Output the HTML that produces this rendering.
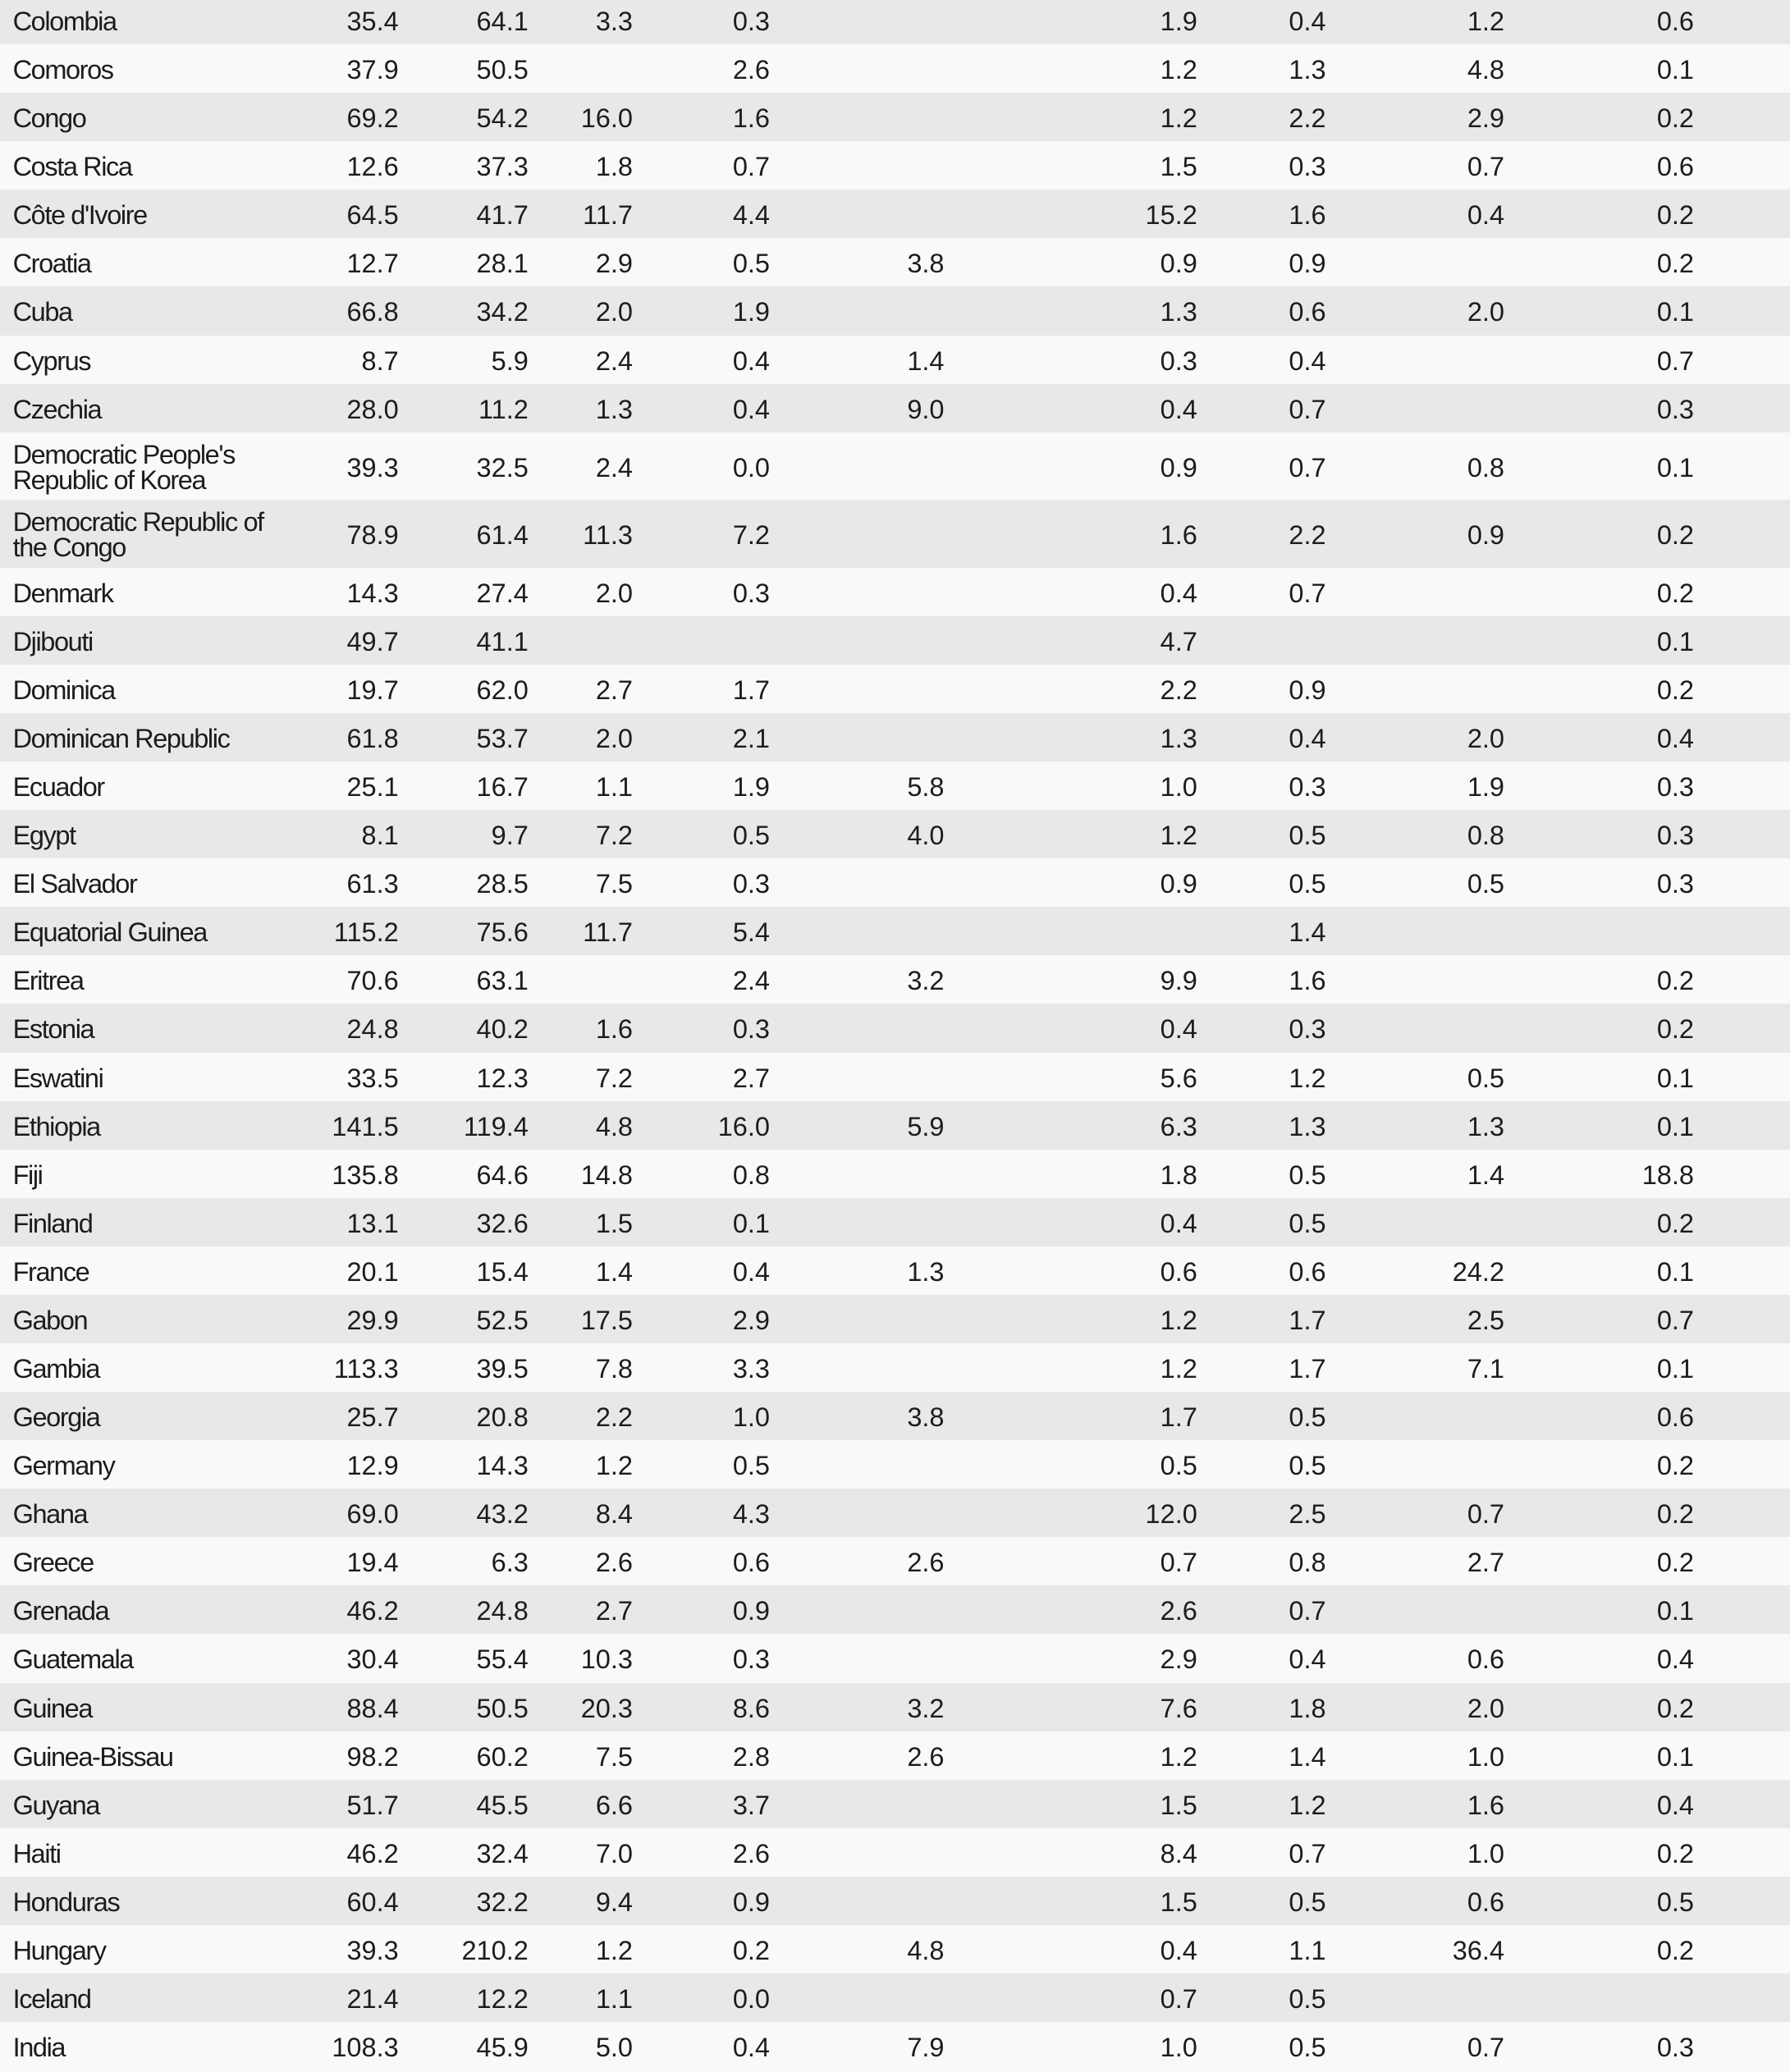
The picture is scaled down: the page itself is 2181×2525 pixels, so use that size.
<!DOCTYPE html>
<html>
<head>
<meta charset="utf-8">
<style>
html,body{margin:0;padding:0;}
body{width:2181px;height:2524px;position:relative;overflow:hidden;background:#f9f9f9;font-family:"Liberation Sans",Arial,sans-serif;font-size:32.5px;color:#1c1c1c;}
.r{position:absolute;left:0;width:2181px;height:59.08px;line-height:59.08px;}
.g{background:#e8e8e8;}
.w{background:#f9f9f9;}
.r span{position:absolute;top:2px;white-space:nowrap;}
.r span.n{left:15.6px;letter-spacing:-1.4px;}
.d{height:82.5px;line-height:82.5px;}
.d span.n{top:12.25px;line-height:31px;}
.c1{right:1695.3px}.c2{right:1537.2px}.c3{right:1410px}.c4{right:1243px}.c5{right:1030.5px}
.c6{right:722.2px}.c7{right:565.4px}.c8{right:348px}.c9{right:117px}
</style>
</head>
<body>
<div class="r g" style="top:-5px"><span class="n">Colombia</span><span class="c1">35.4</span><span class="c2">64.1</span><span class="c3">3.3</span><span class="c4">0.3</span><span class="c6">1.9</span><span class="c7">0.4</span><span class="c8">1.2</span><span class="c9">0.6</span></div>
<div class="r w" style="top:54.08px"><span class="n">Comoros</span><span class="c1">37.9</span><span class="c2">50.5</span><span class="c4">2.6</span><span class="c6">1.2</span><span class="c7">1.3</span><span class="c8">4.8</span><span class="c9">0.1</span></div>
<div class="r g" style="top:113.16px"><span class="n">Congo</span><span class="c1">69.2</span><span class="c2">54.2</span><span class="c3">16.0</span><span class="c4">1.6</span><span class="c6">1.2</span><span class="c7">2.2</span><span class="c8">2.9</span><span class="c9">0.2</span></div>
<div class="r w" style="top:172.24px"><span class="n">Costa Rica</span><span class="c1">12.6</span><span class="c2">37.3</span><span class="c3">1.8</span><span class="c4">0.7</span><span class="c6">1.5</span><span class="c7">0.3</span><span class="c8">0.7</span><span class="c9">0.6</span></div>
<div class="r g" style="top:231.32px"><span class="n">Côte d'Ivoire</span><span class="c1">64.5</span><span class="c2">41.7</span><span class="c3">11.7</span><span class="c4">4.4</span><span class="c6">15.2</span><span class="c7">1.6</span><span class="c8">0.4</span><span class="c9">0.2</span></div>
<div class="r w" style="top:290.40px"><span class="n">Croatia</span><span class="c1">12.7</span><span class="c2">28.1</span><span class="c3">2.9</span><span class="c4">0.5</span><span class="c5">3.8</span><span class="c6">0.9</span><span class="c7">0.9</span><span class="c9">0.2</span></div>
<div class="r g" style="top:349.48px"><span class="n">Cuba</span><span class="c1">66.8</span><span class="c2">34.2</span><span class="c3">2.0</span><span class="c4">1.9</span><span class="c6">1.3</span><span class="c7">0.6</span><span class="c8">2.0</span><span class="c9">0.1</span></div>
<div class="r w" style="top:408.56px"><span class="n">Cyprus</span><span class="c1">8.7</span><span class="c2">5.9</span><span class="c3">2.4</span><span class="c4">0.4</span><span class="c5">1.4</span><span class="c6">0.3</span><span class="c7">0.4</span><span class="c9">0.7</span></div>
<div class="r g" style="top:467.64px"><span class="n">Czechia</span><span class="c1">28.0</span><span class="c2">11.2</span><span class="c3">1.3</span><span class="c4">0.4</span><span class="c5">9.0</span><span class="c6">0.4</span><span class="c7">0.7</span><span class="c9">0.3</span></div>
<div class="r w d" style="top:526.72px"><span class="n">Democratic People's<br>Republic of Korea</span><span class="c1">39.3</span><span class="c2">32.5</span><span class="c3">2.4</span><span class="c4">0.0</span><span class="c6">0.9</span><span class="c7">0.7</span><span class="c8">0.8</span><span class="c9">0.1</span></div>
<div class="r g d" style="top:609.22px"><span class="n">Democratic Republic of<br>the Congo</span><span class="c1">78.9</span><span class="c2">61.4</span><span class="c3">11.3</span><span class="c4">7.2</span><span class="c6">1.6</span><span class="c7">2.2</span><span class="c8">0.9</span><span class="c9">0.2</span></div>
<div class="r w" style="top:691.72px"><span class="n">Denmark</span><span class="c1">14.3</span><span class="c2">27.4</span><span class="c3">2.0</span><span class="c4">0.3</span><span class="c6">0.4</span><span class="c7">0.7</span><span class="c9">0.2</span></div>
<div class="r g" style="top:750.80px"><span class="n">Djibouti</span><span class="c1">49.7</span><span class="c2">41.1</span><span class="c6">4.7</span><span class="c9">0.1</span></div>
<div class="r w" style="top:809.88px"><span class="n">Dominica</span><span class="c1">19.7</span><span class="c2">62.0</span><span class="c3">2.7</span><span class="c4">1.7</span><span class="c6">2.2</span><span class="c7">0.9</span><span class="c9">0.2</span></div>
<div class="r g" style="top:868.96px"><span class="n">Dominican Republic</span><span class="c1">61.8</span><span class="c2">53.7</span><span class="c3">2.0</span><span class="c4">2.1</span><span class="c6">1.3</span><span class="c7">0.4</span><span class="c8">2.0</span><span class="c9">0.4</span></div>
<div class="r w" style="top:928.04px"><span class="n">Ecuador</span><span class="c1">25.1</span><span class="c2">16.7</span><span class="c3">1.1</span><span class="c4">1.9</span><span class="c5">5.8</span><span class="c6">1.0</span><span class="c7">0.3</span><span class="c8">1.9</span><span class="c9">0.3</span></div>
<div class="r g" style="top:987.12px"><span class="n">Egypt</span><span class="c1">8.1</span><span class="c2">9.7</span><span class="c3">7.2</span><span class="c4">0.5</span><span class="c5">4.0</span><span class="c6">1.2</span><span class="c7">0.5</span><span class="c8">0.8</span><span class="c9">0.3</span></div>
<div class="r w" style="top:1046.20px"><span class="n">El Salvador</span><span class="c1">61.3</span><span class="c2">28.5</span><span class="c3">7.5</span><span class="c4">0.3</span><span class="c6">0.9</span><span class="c7">0.5</span><span class="c8">0.5</span><span class="c9">0.3</span></div>
<div class="r g" style="top:1105.28px"><span class="n">Equatorial Guinea</span><span class="c1">115.2</span><span class="c2">75.6</span><span class="c3">11.7</span><span class="c4">5.4</span><span class="c7">1.4</span></div>
<div class="r w" style="top:1164.36px"><span class="n">Eritrea</span><span class="c1">70.6</span><span class="c2">63.1</span><span class="c4">2.4</span><span class="c5">3.2</span><span class="c6">9.9</span><span class="c7">1.6</span><span class="c9">0.2</span></div>
<div class="r g" style="top:1223.44px"><span class="n">Estonia</span><span class="c1">24.8</span><span class="c2">40.2</span><span class="c3">1.6</span><span class="c4">0.3</span><span class="c6">0.4</span><span class="c7">0.3</span><span class="c9">0.2</span></div>
<div class="r w" style="top:1282.52px"><span class="n">Eswatini</span><span class="c1">33.5</span><span class="c2">12.3</span><span class="c3">7.2</span><span class="c4">2.7</span><span class="c6">5.6</span><span class="c7">1.2</span><span class="c8">0.5</span><span class="c9">0.1</span></div>
<div class="r g" style="top:1341.60px"><span class="n">Ethiopia</span><span class="c1">141.5</span><span class="c2">119.4</span><span class="c3">4.8</span><span class="c4">16.0</span><span class="c5">5.9</span><span class="c6">6.3</span><span class="c7">1.3</span><span class="c8">1.3</span><span class="c9">0.1</span></div>
<div class="r w" style="top:1400.68px"><span class="n">Fiji</span><span class="c1">135.8</span><span class="c2">64.6</span><span class="c3">14.8</span><span class="c4">0.8</span><span class="c6">1.8</span><span class="c7">0.5</span><span class="c8">1.4</span><span class="c9">18.8</span></div>
<div class="r g" style="top:1459.76px"><span class="n">Finland</span><span class="c1">13.1</span><span class="c2">32.6</span><span class="c3">1.5</span><span class="c4">0.1</span><span class="c6">0.4</span><span class="c7">0.5</span><span class="c9">0.2</span></div>
<div class="r w" style="top:1518.84px"><span class="n">France</span><span class="c1">20.1</span><span class="c2">15.4</span><span class="c3">1.4</span><span class="c4">0.4</span><span class="c5">1.3</span><span class="c6">0.6</span><span class="c7">0.6</span><span class="c8">24.2</span><span class="c9">0.1</span></div>
<div class="r g" style="top:1577.92px"><span class="n">Gabon</span><span class="c1">29.9</span><span class="c2">52.5</span><span class="c3">17.5</span><span class="c4">2.9</span><span class="c6">1.2</span><span class="c7">1.7</span><span class="c8">2.5</span><span class="c9">0.7</span></div>
<div class="r w" style="top:1637.00px"><span class="n">Gambia</span><span class="c1">113.3</span><span class="c2">39.5</span><span class="c3">7.8</span><span class="c4">3.3</span><span class="c6">1.2</span><span class="c7">1.7</span><span class="c8">7.1</span><span class="c9">0.1</span></div>
<div class="r g" style="top:1696.08px"><span class="n">Georgia</span><span class="c1">25.7</span><span class="c2">20.8</span><span class="c3">2.2</span><span class="c4">1.0</span><span class="c5">3.8</span><span class="c6">1.7</span><span class="c7">0.5</span><span class="c9">0.6</span></div>
<div class="r w" style="top:1755.16px"><span class="n">Germany</span><span class="c1">12.9</span><span class="c2">14.3</span><span class="c3">1.2</span><span class="c4">0.5</span><span class="c6">0.5</span><span class="c7">0.5</span><span class="c9">0.2</span></div>
<div class="r g" style="top:1814.24px"><span class="n">Ghana</span><span class="c1">69.0</span><span class="c2">43.2</span><span class="c3">8.4</span><span class="c4">4.3</span><span class="c6">12.0</span><span class="c7">2.5</span><span class="c8">0.7</span><span class="c9">0.2</span></div>
<div class="r w" style="top:1873.32px"><span class="n">Greece</span><span class="c1">19.4</span><span class="c2">6.3</span><span class="c3">2.6</span><span class="c4">0.6</span><span class="c5">2.6</span><span class="c6">0.7</span><span class="c7">0.8</span><span class="c8">2.7</span><span class="c9">0.2</span></div>
<div class="r g" style="top:1932.40px"><span class="n">Grenada</span><span class="c1">46.2</span><span class="c2">24.8</span><span class="c3">2.7</span><span class="c4">0.9</span><span class="c6">2.6</span><span class="c7">0.7</span><span class="c9">0.1</span></div>
<div class="r w" style="top:1991.48px"><span class="n">Guatemala</span><span class="c1">30.4</span><span class="c2">55.4</span><span class="c3">10.3</span><span class="c4">0.3</span><span class="c6">2.9</span><span class="c7">0.4</span><span class="c8">0.6</span><span class="c9">0.4</span></div>
<div class="r g" style="top:2050.56px"><span class="n">Guinea</span><span class="c1">88.4</span><span class="c2">50.5</span><span class="c3">20.3</span><span class="c4">8.6</span><span class="c5">3.2</span><span class="c6">7.6</span><span class="c7">1.8</span><span class="c8">2.0</span><span class="c9">0.2</span></div>
<div class="r w" style="top:2109.64px"><span class="n">Guinea-Bissau</span><span class="c1">98.2</span><span class="c2">60.2</span><span class="c3">7.5</span><span class="c4">2.8</span><span class="c5">2.6</span><span class="c6">1.2</span><span class="c7">1.4</span><span class="c8">1.0</span><span class="c9">0.1</span></div>
<div class="r g" style="top:2168.72px"><span class="n">Guyana</span><span class="c1">51.7</span><span class="c2">45.5</span><span class="c3">6.6</span><span class="c4">3.7</span><span class="c6">1.5</span><span class="c7">1.2</span><span class="c8">1.6</span><span class="c9">0.4</span></div>
<div class="r w" style="top:2227.80px"><span class="n">Haiti</span><span class="c1">46.2</span><span class="c2">32.4</span><span class="c3">7.0</span><span class="c4">2.6</span><span class="c6">8.4</span><span class="c7">0.7</span><span class="c8">1.0</span><span class="c9">0.2</span></div>
<div class="r g" style="top:2286.88px"><span class="n">Honduras</span><span class="c1">60.4</span><span class="c2">32.2</span><span class="c3">9.4</span><span class="c4">0.9</span><span class="c6">1.5</span><span class="c7">0.5</span><span class="c8">0.6</span><span class="c9">0.5</span></div>
<div class="r w" style="top:2345.96px"><span class="n">Hungary</span><span class="c1">39.3</span><span class="c2">210.2</span><span class="c3">1.2</span><span class="c4">0.2</span><span class="c5">4.8</span><span class="c6">0.4</span><span class="c7">1.1</span><span class="c8">36.4</span><span class="c9">0.2</span></div>
<div class="r g" style="top:2405.04px"><span class="n">Iceland</span><span class="c1">21.4</span><span class="c2">12.2</span><span class="c3">1.1</span><span class="c4">0.0</span><span class="c6">0.7</span><span class="c7">0.5</span></div>
<div class="r w" style="top:2464.12px"><span class="n">India</span><span class="c1">108.3</span><span class="c2">45.9</span><span class="c3">5.0</span><span class="c4">0.4</span><span class="c5">7.9</span><span class="c6">1.0</span><span class="c7">0.5</span><span class="c8">0.7</span><span class="c9">0.3</span></div>
</body>
</html>
